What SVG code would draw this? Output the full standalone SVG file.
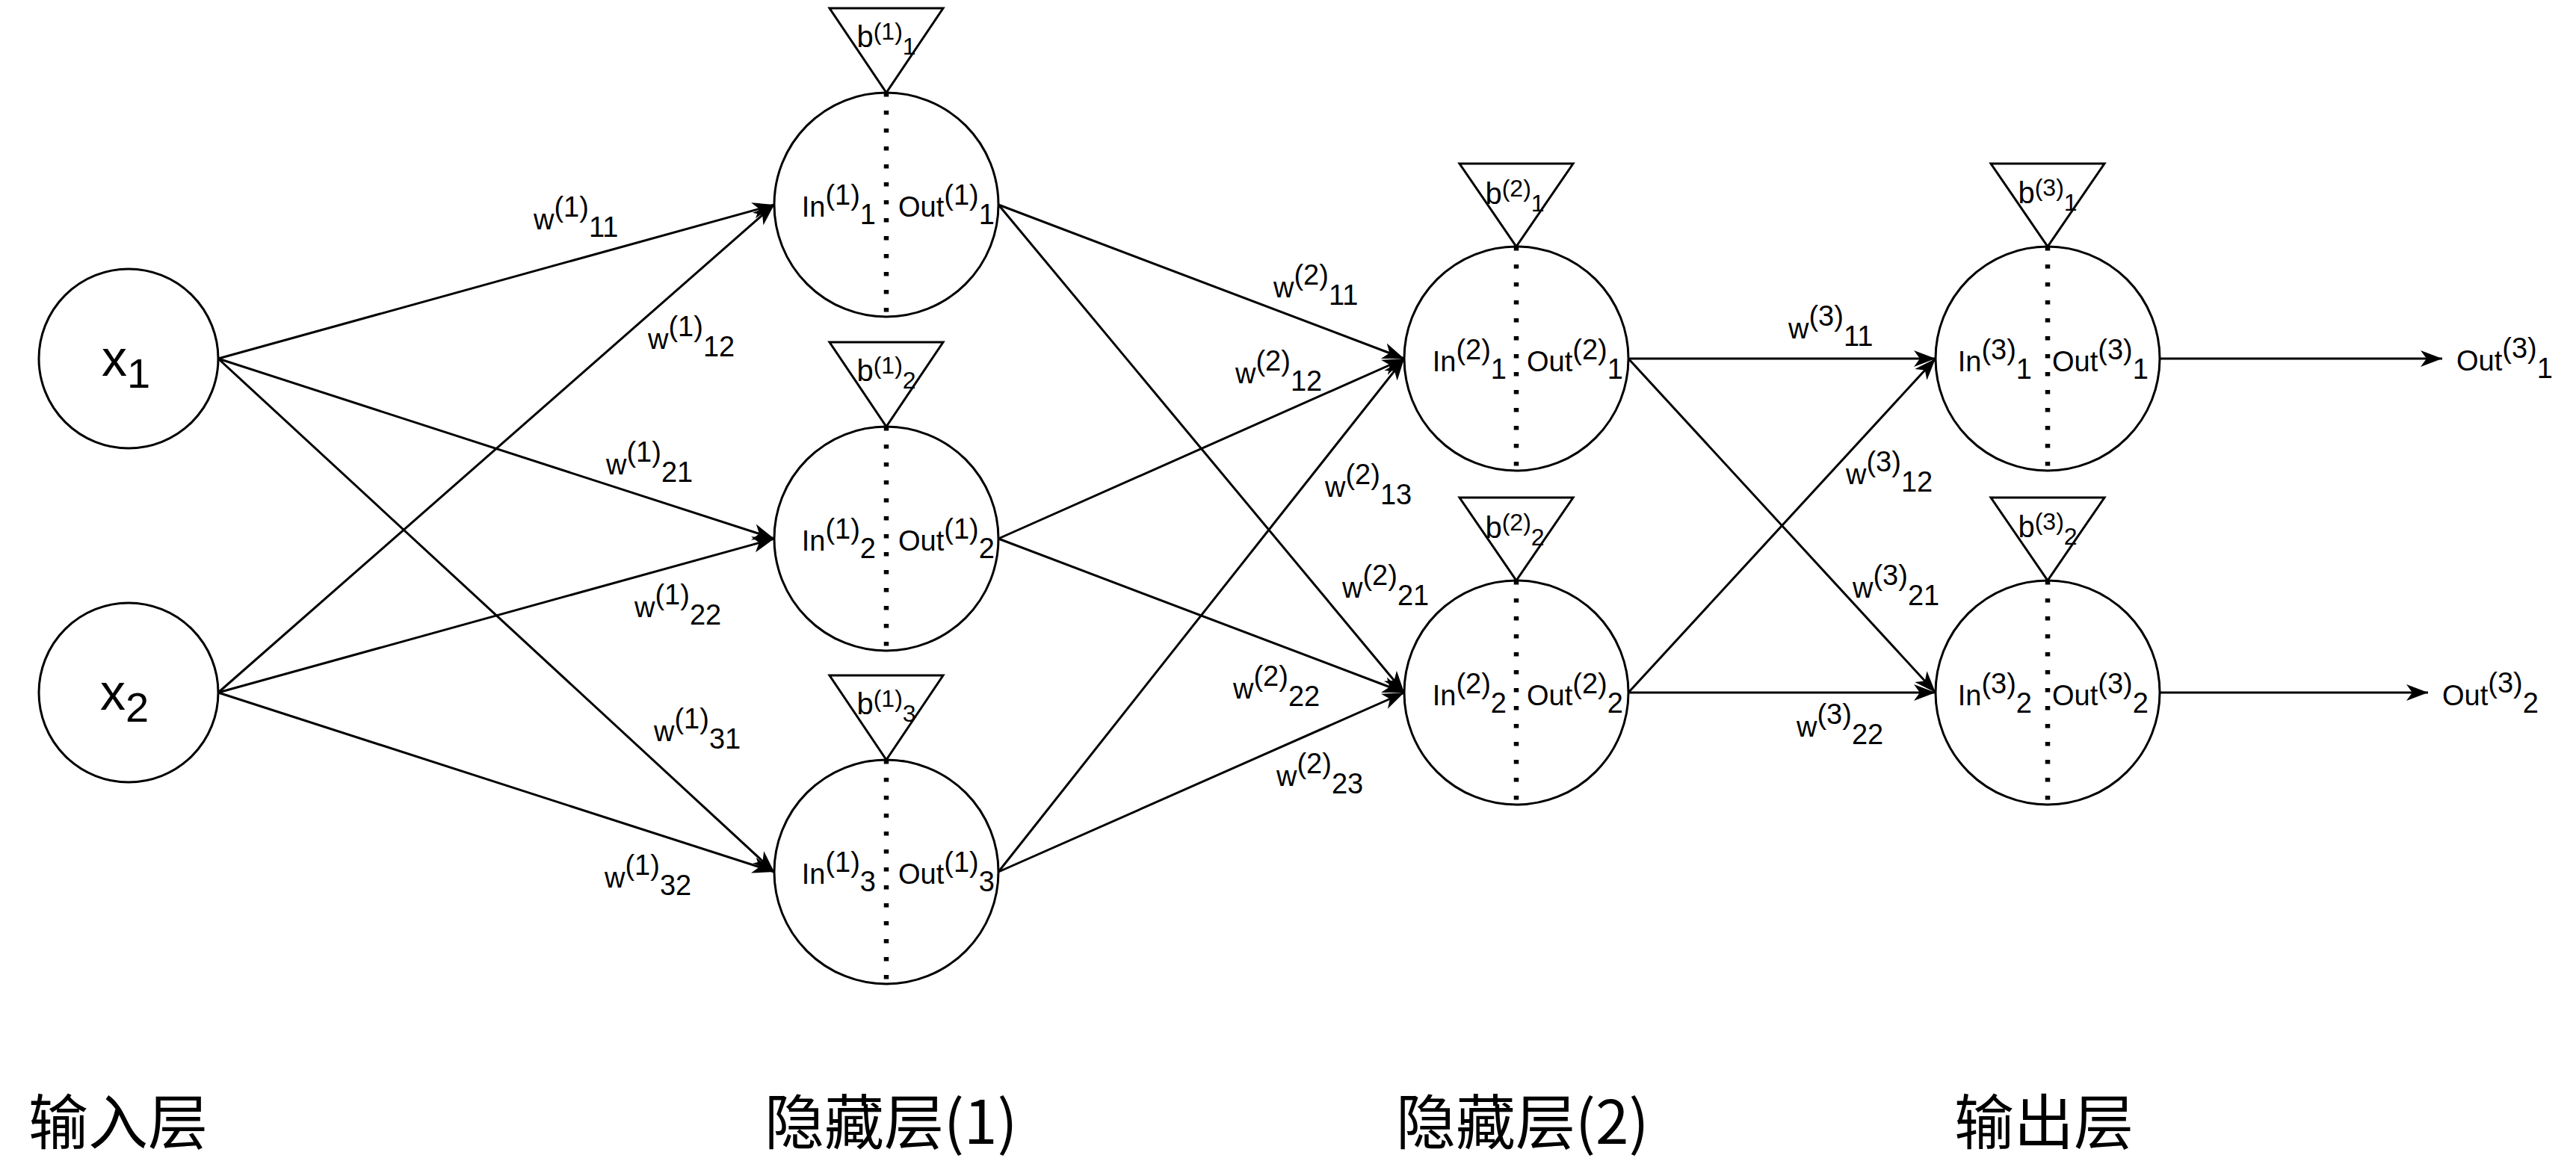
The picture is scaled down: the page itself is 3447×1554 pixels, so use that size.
<svg xmlns="http://www.w3.org/2000/svg" width="3447" height="1554" viewBox="0 0 3447 1554">
<style>
.node{fill:#fff;stroke:#000;stroke-width:3}
.bias{fill:#fff;stroke:#000;stroke-width:3;stroke-linejoin:miter}
.dot{stroke:#000;stroke-width:6.5;stroke-dasharray:5.5 18.5;fill:none}
.edge{stroke:#000;stroke-width:3;fill:none;marker-end:url(#arr)}
.t{font-family:"Liberation Sans",Arial,sans-serif;font-size:38px;fill:#000}
.bt{font-family:"Liberation Sans",Arial,sans-serif;font-size:40px;fill:#000}
.bs{font-size:32px}
.xt{font-family:"Liberation Sans",Arial,sans-serif;font-size:68px;fill:#000}
.layer{font-family:"Noto Sans CJK SC","Noto Sans",sans-serif;font-size:80px;fill:#000}
</style>
<defs>
<marker id="arr" markerUnits="userSpaceOnUse" markerWidth="30" markerHeight="24" viewBox="0 0 30 24" refX="29" refY="12" orient="auto">
<path d="M0,1 L29,12 L0,23 L8,12 Z" fill="#000"/>
</marker>
</defs>
<rect width="3447" height="1554" fill="#fff"/>

<g id="connectors">
<line class="edge" x1="292" y1="480" x2="1036" y2="274"/>
<line class="edge" x1="292" y1="480" x2="1036" y2="721"/>
<line class="edge" x1="292" y1="480" x2="1036" y2="1167"/>
<line class="edge" x1="292" y1="927" x2="1036" y2="274"/>
<line class="edge" x1="292" y1="927" x2="1036" y2="721"/>
<line class="edge" x1="292" y1="927" x2="1036" y2="1167"/>
<line class="edge" x1="1336" y1="274" x2="1879" y2="480"/>
<line class="edge" x1="1336" y1="274" x2="1879" y2="927"/>
<line class="edge" x1="1336" y1="721" x2="1879" y2="480"/>
<line class="edge" x1="1336" y1="721" x2="1879" y2="927"/>
<line class="edge" x1="1336" y1="1167" x2="1879" y2="480"/>
<line class="edge" x1="1336" y1="1167" x2="1879" y2="927"/>
<line class="edge" x1="2179" y1="480" x2="2590" y2="480"/>
<line class="edge" x1="2179" y1="480" x2="2590" y2="927"/>
<line class="edge" x1="2179" y1="927" x2="2590" y2="480"/>
<line class="edge" x1="2179" y1="927" x2="2590" y2="927"/>
<line class="edge" x1="2890" y1="480" x2="3268" y2="480"/>
<line class="edge" x1="2890" y1="927" x2="3249" y2="927"/>
</g>

<g id="edge-labels">
<text class="t" x="714" y="307">w<tspan dy="-17">(1)</tspan><tspan dy="27">11</tspan></text>
<text class="t" x="867" y="467">w<tspan dy="-17">(1)</tspan><tspan dy="27">12</tspan></text>
<text class="t" x="811" y="635">w<tspan dy="-17">(1)</tspan><tspan dy="27">21</tspan></text>
<text class="t" x="849" y="826">w<tspan dy="-17">(1)</tspan><tspan dy="27">22</tspan></text>
<text class="t" x="875" y="992">w<tspan dy="-17">(1)</tspan><tspan dy="27">31</tspan></text>
<text class="t" x="809" y="1188">w<tspan dy="-17">(1)</tspan><tspan dy="27">32</tspan></text>
<text class="t" x="1704" y="398">w<tspan dy="-17">(2)</tspan><tspan dy="27">11</tspan></text>
<text class="t" x="1653" y="513">w<tspan dy="-17">(2)</tspan><tspan dy="27">12</tspan></text>
<text class="t" x="1773" y="665">w<tspan dy="-17">(2)</tspan><tspan dy="27">13</tspan></text>
<text class="t" x="1796" y="800">w<tspan dy="-17">(2)</tspan><tspan dy="27">21</tspan></text>
<text class="t" x="1650" y="935">w<tspan dy="-17">(2)</tspan><tspan dy="27">22</tspan></text>
<text class="t" x="1708" y="1052">w<tspan dy="-17">(2)</tspan><tspan dy="27">23</tspan></text>
<text class="t" x="2393" y="453">w<tspan dy="-17">(3)</tspan><tspan dy="27">11</tspan></text>
<text class="t" x="2470" y="648">w<tspan dy="-17">(3)</tspan><tspan dy="27">12</tspan></text>
<text class="t" x="2479" y="800">w<tspan dy="-17">(3)</tspan><tspan dy="27">21</tspan></text>
<text class="t" x="2404" y="986">w<tspan dy="-17">(3)</tspan><tspan dy="27">22</tspan></text>
<text class="t" x="3287" y="496">Out<tspan dy="-17">(3)</tspan><tspan dy="27">1</tspan></text>
<text class="t" x="3268" y="944">Out<tspan dy="-17">(3)</tspan><tspan dy="27">2</tspan></text>
</g>

<g id="x1">
<circle class="node" cx="172" cy="480" r="120"/>
<text class="xt" x="136" y="503">x<tspan dy="16" font-size="56">1</tspan></text>
</g>
<g id="x2">
<circle class="node" cx="172" cy="927" r="120"/>
<text class="xt" x="134" y="950">x<tspan dy="16" font-size="56">2</tspan></text>
</g>

<g id="h1_1">
<circle class="node" cx="1186" cy="274" r="150"/>
<line class="dot" x1="1186" y1="124" x2="1186" y2="424"/>
<text class="t" x="1172" y="290" text-anchor="end">In<tspan dy="-16">(1)</tspan><tspan dy="26">1</tspan></text>
<text class="t" x="1202" y="290">Out<tspan dy="-16">(1)</tspan><tspan dy="26">1</tspan></text>
</g>
<g id="b1_1">
<polygon class="bias" points="1110,11 1262,11 1186,124"/>
<text class="bt" x="1186" y="63" text-anchor="middle">b<tspan class="bs" dy="-10">(1)</tspan><tspan class="bs" dy="20">1</tspan></text>
</g>

<g id="h1_2">
<circle class="node" cx="1186" cy="721" r="150"/>
<line class="dot" x1="1186" y1="571" x2="1186" y2="871"/>
<text class="t" x="1172" y="737" text-anchor="end">In<tspan dy="-16">(1)</tspan><tspan dy="26">2</tspan></text>
<text class="t" x="1202" y="737">Out<tspan dy="-16">(1)</tspan><tspan dy="26">2</tspan></text>
</g>
<g id="b1_2">
<polygon class="bias" points="1110,458 1262,458 1186,571"/>
<text class="bt" x="1186" y="510" text-anchor="middle">b<tspan class="bs" dy="-10">(1)</tspan><tspan class="bs" dy="20">2</tspan></text>
</g>

<g id="h1_3">
<circle class="node" cx="1186" cy="1167" r="150"/>
<line class="dot" x1="1186" y1="1017" x2="1186" y2="1317"/>
<text class="t" x="1172" y="1183" text-anchor="end">In<tspan dy="-16">(1)</tspan><tspan dy="26">3</tspan></text>
<text class="t" x="1202" y="1183">Out<tspan dy="-16">(1)</tspan><tspan dy="26">3</tspan></text>
</g>
<g id="b1_3">
<polygon class="bias" points="1110,904 1262,904 1186,1017"/>
<text class="bt" x="1186" y="956" text-anchor="middle">b<tspan class="bs" dy="-10">(1)</tspan><tspan class="bs" dy="20">3</tspan></text>
</g>

<g id="h2_1">
<circle class="node" cx="2029" cy="480" r="150"/>
<line class="dot" x1="2029" y1="330" x2="2029" y2="630"/>
<text class="t" x="2016" y="497" text-anchor="end">In<tspan dy="-16">(2)</tspan><tspan dy="26">1</tspan></text>
<text class="t" x="2043" y="497">Out<tspan dy="-16">(2)</tspan><tspan dy="26">1</tspan></text>
</g>
<g id="b2_1">
<polygon class="bias" points="1953,219 2105,219 2029,330"/>
<text class="bt" x="2027" y="273" text-anchor="middle">b<tspan class="bs" dy="-10">(2)</tspan><tspan class="bs" dy="20">1</tspan></text>
</g>

<g id="h2_2">
<circle class="node" cx="2029" cy="927" r="150"/>
<line class="dot" x1="2029" y1="777" x2="2029" y2="1077"/>
<text class="t" x="2016" y="944" text-anchor="end">In<tspan dy="-16">(2)</tspan><tspan dy="26">2</tspan></text>
<text class="t" x="2043" y="944">Out<tspan dy="-16">(2)</tspan><tspan dy="26">2</tspan></text>
</g>
<g id="b2_2">
<polygon class="bias" points="1953,666 2105,666 2029,777"/>
<text class="bt" x="2027" y="720" text-anchor="middle">b<tspan class="bs" dy="-10">(2)</tspan><tspan class="bs" dy="20">2</tspan></text>
</g>

<g id="o_1">
<circle class="node" cx="2740" cy="480" r="150"/>
<line class="dot" x1="2740" y1="330" x2="2740" y2="630"/>
<text class="t" x="2719" y="497" text-anchor="end">In<tspan dy="-16">(3)</tspan><tspan dy="26">1</tspan></text>
<text class="t" x="2746" y="497">Out<tspan dy="-16">(3)</tspan><tspan dy="26">1</tspan></text>
</g>
<g id="b3_1">
<polygon class="bias" points="2664,219 2816,219 2740,330"/>
<text class="bt" x="2740" y="272" text-anchor="middle">b<tspan class="bs" dy="-10">(3)</tspan><tspan class="bs" dy="20">1</tspan></text>
</g>

<g id="o_2">
<circle class="node" cx="2740" cy="927" r="150"/>
<line class="dot" x1="2740" y1="777" x2="2740" y2="1077"/>
<text class="t" x="2719" y="944" text-anchor="end">In<tspan dy="-16">(3)</tspan><tspan dy="26">2</tspan></text>
<text class="t" x="2746" y="944">Out<tspan dy="-16">(3)</tspan><tspan dy="26">2</tspan></text>
</g>
<g id="b3_2">
<polygon class="bias" points="2664,666 2816,666 2740,777"/>
<text class="bt" x="2740" y="719" text-anchor="middle">b<tspan class="bs" dy="-10">(3)</tspan><tspan class="bs" dy="20">2</tspan></text>
</g>

<g id="layer-labels">
<text class="layer" x="38" y="1531">输入层</text>
<text class="layer" x="1023" y="1531">隐藏层(1)</text>
<text class="layer" x="1868" y="1531">隐藏层(2)</text>
<text class="layer" x="2615" y="1531">输出层</text>
</g>
</svg>
